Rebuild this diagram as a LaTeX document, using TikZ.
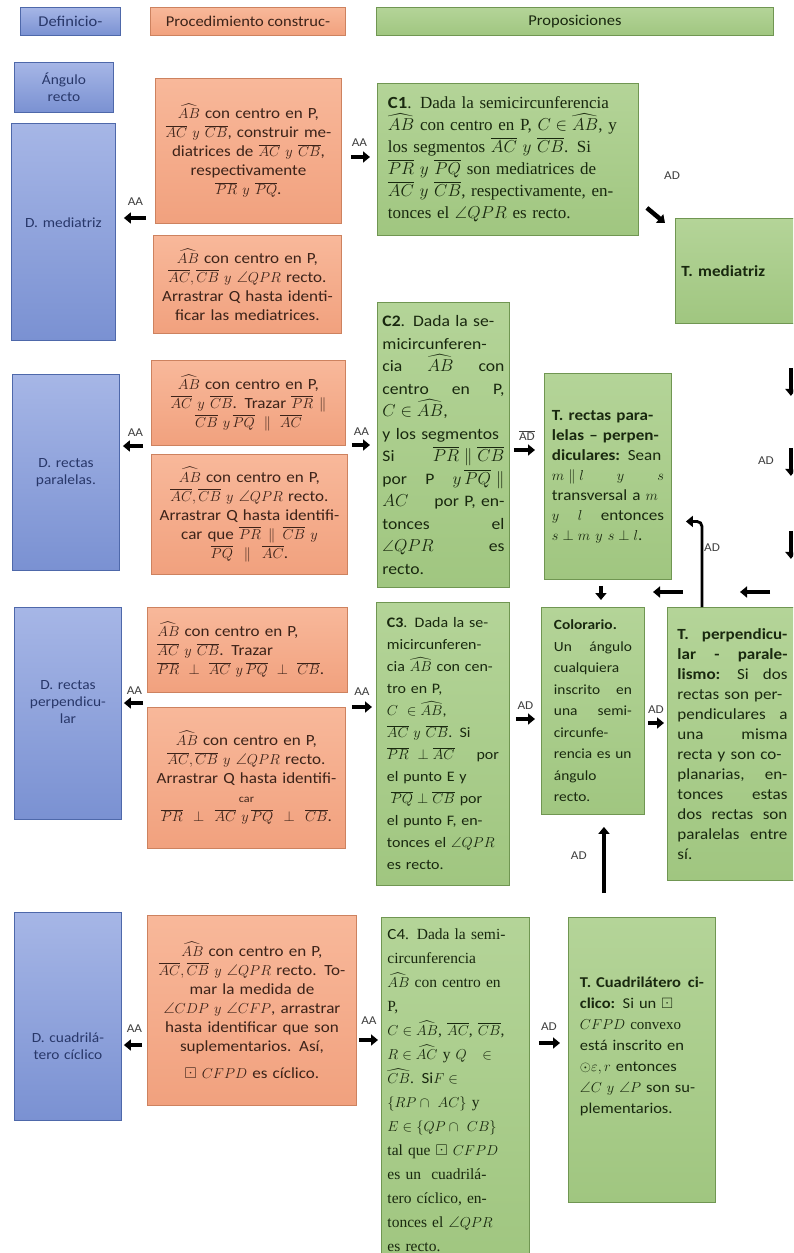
\documentclass[tikz,border=0pt]{standalone}
\usepackage{amsmath}
\usepackage{amssymb}
\usepackage{fontspec}
\setmainfont{Carlito}[FakeStretch=1.1]
\newfontfamily\serifa{Liberation Serif}
\usetikzlibrary{arrows.meta}

\definecolor{azulsup}{RGB}{166,182,230}
\definecolor{azulinf}{RGB}{122,145,210}
\definecolor{azulborde}{RGB}{78,104,170}
\definecolor{azultexto}{RGB}{40,55,105}
\definecolor{narsup}{RGB}{248,184,154}
\definecolor{narinf}{RGB}{241,161,126}
\definecolor{narborde}{RGB}{205,130,95}
\definecolor{nartexto}{RGB}{60,35,25}
\definecolor{versup}{RGB}{180,212,152}
\definecolor{verinf}{RGB}{160,198,128}
\definecolor{verborde}{RGB}{112,150,82}
\definecolor{vertexto}{RGB}{25,40,15}

\tikzset{
  caja/.style={anchor=north west, inner sep=5pt, line width=0.9pt, align=center},
  azul/.style={caja, draw=azulborde, top color=azulsup, bottom color=azulinf, text=azultexto, font=\fontsize{14}{17}\selectfont},
  naranja/.style={caja, draw=narborde, top color=narsup, bottom color=narinf, text=nartexto, font=\fontsize{15.5}{19}\selectfont},
  verde/.style={caja, draw=verborde, top color=versup, bottom color=verinf, text=vertexto, font=\fontsize{15.5}{20}\selectfont},
  serifo/.style={font=\serifa\fontsize{17}{22}\selectfont},
  flecha/.style={line width=4.5pt, -{Triangle[length=7pt,width=11pt]}},
  etiq/.style={font=\fontsize{12}{12}\selectfont, text=black!75, inner sep=1pt},
}

\begin{document}
\begin{tikzpicture}[x=1pt,y=-1pt]
\useasboundingbox (0,0) rectangle (793,1253);
\clip (0,0) rectangle (793,1253);
\fill[white] (0,0) rectangle (793,1253);

% encabezados
\node[azul, minimum width=100pt, minimum height=28pt, font=\fontsize{15}{17}\selectfont] (hdef) at (20,7) {Definicio-};
\node[naranja, minimum width=195pt, minimum height=28pt, font=\fontsize{15}{17}\selectfont] (hproc) at (150,7) {Procedimiento construc-};
\node[verde, minimum width=397pt, minimum height=28pt, font=\fontsize{15}{17}\selectfont] (hprop) at (376,7) {Proposiciones};

% definiciones
\node[azul, minimum width=99pt, minimum height=50pt, text width=89pt] (ang) at (14,62) {Ángulo\\recto};
\node[azul, minimum width=104pt, minimum height=217pt, text width=94pt] (dmed) at (11,123) {D. mediatriz\rule[-18pt]{0pt}{0pt}};
\node[azul, minimum width=107pt, minimum height=196pt, text width=97pt] (dpar) at (12,374) {D. rectas\\paralelas.};
\node[azul, minimum width=107pt, minimum height=212pt, text width=97pt] (dperp) at (14,607) {D. rectas\\perpendicu-\\lar\rule[-22pt]{0pt}{0pt}};
\node[azul, minimum width=107pt, minimum height=208pt, text width=97pt] (dcua) at (14,912) {\rule{0pt}{70pt}D. cuadrilá-\\tero cíclico};

% procedimientos
\node[naranja, minimum width=186pt, minimum height=145pt, text width=176pt] (o1) at (155,78)
  {$\widehat{AB}$ con centro en P,\\ $\overline{AC}\ y\ \overline{CB}$, construir me-\\diatrices de $\overline{AC}\ y\ \overline{CB}$,\\ respectivamente\\ $\overline{PR}\ y\ \overline{PQ}$.};
\node[naranja, minimum width=188pt, minimum height=98pt, text width=178pt] (o2) at (153,235)
  {$\widehat{AB}$ con centro en P,\\ $\overline{AC}, \overline{CB}\ y\ \angle QPR$ recto.\\ Arrastrar Q hasta identi-\\ficar las mediatrices.};
\node[naranja, minimum width=194pt, minimum height=85pt, text width=184pt] (o3) at (151,360)
  {$\widehat{AB}$ con centro en P,\\ $\overline{AC}\ y\ \overline{CB}$. Trazar $\overline{PR}\parallel$\\ $\overline{CB}\ y\,\overline{PQ}\parallel\overline{AC}$};
\node[naranja, minimum width=196pt, minimum height=120pt, text width=186pt] (o4) at (151,454)
  {$\widehat{AB}$ con centro en P,\\ $\overline{AC}, \overline{CB}\ y\ \angle QPR$ recto.\\ Arrastrar Q hasta identifi-\\car que $\overline{PR}\parallel\overline{CB}\ y$\\ $\overline{PQ}\parallel\overline{AC}$.};
\node[naranja, minimum width=200pt, minimum height=85pt, text width=180pt, align=left] (o5) at (147,607)
  {$\widehat{AB}$ con centro en P,\\ $\overline{AC}\ y\ \overline{CB}$. Trazar\\ $\overline{PR}\ \perp\ \overline{AC}\ y\,\overline{PQ}\ \perp\ \overline{CB}$.};
\node[naranja, minimum width=198pt, minimum height=141pt, text width=188pt] (o6) at (147,707)
  {$\widehat{AB}$ con centro en P,\\ $\overline{AC}, \overline{CB}\ y\ \angle QPR$ recto.\\ Arrastrar Q hasta identifi-\\{\fontsize{11}{11}\selectfont car}\\ $\overline{PR}\ \perp\ \overline{AC}\ y\,\overline{PQ}\ \perp\ \overline{CB}$.};
\node[naranja, minimum width=209pt, minimum height=190pt, text width=199pt] (o7) at (147,915)
  {$\widehat{AB}$ con centro en P,\\ $\overline{AC}, \overline{CB}\ y\ \angle QPR$ recto. To-\\mar la medida de\\ $\angle CDP\ y\ \angle CFP$, arrastrar\\ hasta identificar que son\\ suplementarios. Así,\\[8pt] $\boxdot\ CFPD$ es cíclico.};

% proposiciones
\node[verde, serifo, minimum width=261pt, minimum height=152pt, text width=240pt, align=left] (c1) at (377,83)
  {{\rmfamily\bfseries C1}. Dada la semicircunferencia\\ $\widehat{AB}$ con centro en P, $C\in\widehat{AB}$, y\\ los segmentos $\overline{AC}\ y\ \overline{CB}$. Si\\ $\overline{PR}\ y\ \overline{PQ}$ son mediatrices de\\ $\overline{AC}\ y\ \overline{CB}$, respectivamente, en-\\tonces el $\angle QPR$ es recto.};
\node[verde, minimum width=130pt, minimum height=105pt, text width=118pt, align=left] (tmed) at (675,218) {\textbf{T. mediatriz}};
\node[verde, font=\fontsize{16}{22.5}\selectfont, minimum width=132pt, minimum height=285pt, text width=122pt, align=left] (c2) at (377,302)
  {\textbf{C2}. Dada la se-\\ micircunferen-\\ cia \hfill $\widehat{AB}$ \hfill con\\ centro \hfill en \hfill P,\\ $C\in\widehat{AB}$,\\ y los segmentos\\ Si \hfill $\overline{PR}\parallel\overline{CB}$\\ por \hfill P \hfill $y\,\overline{PQ}\parallel$\\ $AC$ \hfill por P, en-\\ tonces \hfill el\\ $\angle QPR$ \hfill es\\ recto.};
\node[verde, minimum width=127pt, minimum height=206pt, text width=112pt, align=left] (trp) at (544,373)
  {\textbf{T. rectas para-}\\ \textbf{lelas -- perpen-}\\ \textbf{diculares:} Sean\\ $m\parallel l$ \hfill $y$ \hfill $s$\\ transversal a $m$\\ $y$ \hfill $l$ \hfill entonces\\ $s\perp m\ y\ s\perp l$.};
\node[verde, font=\fontsize{14.5}{22}\selectfont, minimum width=133pt, minimum height=283pt, text width=112pt, align=left] (c3) at (376,602)
  {\textbf{C3}. Dada la se-\\ micircunferen-\\ cia $\widehat{AB}$ con cen-\\ tro en P,\\ $C\ \in\widehat{AB}$,\\ $\overline{AC}\ y\ \overline{CB}$. Si\\ $\overline{PR}\ \perp\overline{AC}$ \hfill por\\ el punto E y\\ \hspace{4pt}$\overline{PQ}\perp\overline{CB}$ por\\ el punto F, en-\\ tonces el $\angle QPR$\\ es recto.};
\node[verde, font=\fontsize{14}{21.5}\selectfont, minimum width=103pt, minimum height=207pt, text width=78pt, align=left] (col) at (541,607)
  {\textbf{Colorario.}\\ Un \hfill ángulo\\ cualquiera\\ inscrito \hfill en\\ una \hfill semi-\\ circunfe-\\ rencia es un\\ ángulo\\ recto.};
\node[verde, minimum width=130pt, minimum height=273pt, text width=110pt, align=left] (tperp) at (667,607)
  {\textbf{T. \hfill perpendicu-}\\ \textbf{lar \hfill - \hfill parale-}\\ \textbf{lismo:} \hfill Si \hfill dos\\ rectas son per-\\ pendiculares \hfill a\\ una \hfill misma\\ recta y son co-\\ planarias, \hfill en-\\ tonces \hfill estas\\ dos \hfill rectas \hfill son\\ paralelas \hfill entre\\ sí.};
\node[verde, serifo, font=\serifa\fontsize{15.5}{24}\selectfont, minimum width=148pt, minimum height=345pt, text width=136pt, align=left] (c4) at (381,917)
  {{\rmfamily C4}. Dada la semi-\\ circunferencia\\ $\widehat{AB}$ con centro en\\ P,\\ $C\in\widehat{AB}$, $\overline{AC}$, $\overline{CB}$,\\ $R\in\widehat{AC}$ y $Q$\quad$\in$\\ $\widehat{CB}$. {\rmfamily Si}$F\in$\\ $\{RP\cap\ AC\}$ y\\ $E\in\{QP\cap\ CB\}$\\ tal que $\boxdot\ CFPD$\\ es un \ cuadrilá-\\ tero cíclico, en-\\ tonces el $\angle QPR$\\ es recto.};
\node[verde, font=\fontsize{15}{21}\selectfont, minimum width=147pt, minimum height=285pt, text width=124pt, align=left] (tcua) at (568,917)
  {\textbf{T. Cuadrilátero \hfill ci-}\\ \textbf{clico:} Si un $\boxdot$\\ $CFPD$ {\serifa convexo}\\ está inscrito en\\ $\odot\varepsilon, r$ entonces\\ $\angle C\ y\ \angle P$ son su-\\ plementarios.\rule[-30pt]{0pt}{0pt}};

% flechas AA
\draw[flecha, shorten <=9pt, shorten >=8pt] (o1.west |- 0,218) -- (dmed.east |- 0,218) node[etiq, midway, above=9pt] {AA};
\draw[flecha, shorten <=9pt, shorten >=7pt] (o1.east |- 0,157) -- (c1.west |- 0,157) node[etiq, midway, above=7pt] {AA};
\draw[flecha, shorten <=8pt, shorten >=3pt] (o3.west |- 0,446) -- (dpar.east |- 0,446) node[etiq, midway, above=6pt] {AA};
\draw[flecha, shorten <=6pt, shorten >=7pt] (o3.east |- 0,445) -- (c2.west |- 0,445) node[etiq, midway, above=6pt] {AA};
\draw[flecha, shorten <=4pt, shorten >=2pt] (o5.west |- 0,703) -- (dperp.east |- 0,703) node[etiq, midway, above=5pt] {AA};
\draw[flecha, shorten <=4pt, shorten >=4pt] (o5.east |- 0,707) -- (c3.west |- 0,707) node[etiq, midway, above=8pt] {AA};
\draw[flecha, shorten <=5pt, shorten >=2pt] (o7.west |- 0,1045) -- (dcua.east |- 0,1045) node[etiq, midway, above=9pt] {AA};
\draw[flecha, shorten <=2pt, shorten >=3pt] (o7.east |- 0,1040) -- (c4.west |- 0,1040) node[etiq, midway, above=12pt] {AA};

% flechas AD
\draw[flecha] ([xshift=8pt,yshift=28pt]c1.south east) -- ([xshift=-10pt,yshift=-5pt]tmed.north west);
\node[etiq] (lmed) at ([xshift=-3pt,yshift=42pt]tmed.north west) {AD};
\draw[flecha, shorten <=4pt, shorten >=9pt] (c2.east |- 0,450) -- (trp.west |- 0,450) node[etiq, midway, above=6pt] {$\overline{\mbox{AD}}$};
\draw[flecha, shorten <=6pt, shorten >=6pt] (c3.east |- 0,719) -- (col.west |- 0,719) node[etiq, midway, above=6pt] {AD};
\draw[flecha, shorten <=3pt, shorten >=3pt] (col.east |- 0,723) -- (tperp.west |- 0,723) node[etiq, midway, above=6pt] {AD};
\draw[flecha, shorten <=9pt, shorten >=8pt] (c4.east |- 0,1043) -- (tcua.west |- 0,1043) node[etiq, midway, above=9pt] {AD};
\draw[flecha, shorten <=24pt, shorten >=12pt] ([xshift=11pt]col.south |- tcua.north) -- ([xshift=11pt]col.south) node[etiq, pos=0.6, left=14pt] {AD};
\draw[flecha, shorten <=6pt, shorten >=7pt] ([xshift=-7pt]trp.south) -- ([xshift=-7pt]trp.south |- col.north);

% borde derecho
\foreach \d in {44,124,207}
  \draw[flecha] ([xshift=-15pt,yshift=-\d]tmed.south east) -- ++(0,28);
\node[etiq] (lder) at ([xshift=-40pt,yshift=-137pt]tmed.south east) {AD};
\draw[flecha] ([xshift=103pt,yshift=15pt]tperp.north west) -- ([xshift=73pt,yshift=15pt]tperp.north west);
\draw[flecha] ([xshift=16pt,yshift=15pt]tperp.north west) -- ([xshift=-14pt,yshift=15pt]tperp.north west);
\draw[flecha, line width=2.8pt, rounded corners=5pt] ([xshift=35pt]tperp.north west) |- ([xshift=14pt,yshift=-45pt]trp.east);
\node[etiq] (lperp) at ([xshift=45pt,yshift=59pt]tperp.north west) {AD};
\end{tikzpicture}
\end{document}
